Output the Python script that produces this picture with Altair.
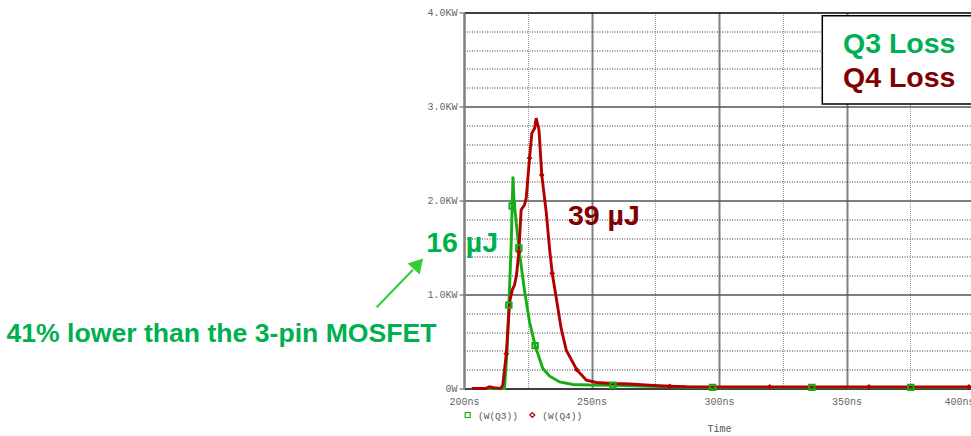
import altair as alt
import pandas as pd

# Q3 instantaneous loss, W(Q3): time in ns, power in W
q3_t = [202.9, 215.1, 215.9, 216.9, 217.6, 218.5, 218.9, 219.2, 219.6, 221.5, 223.7,
        225.7, 227.9, 230.9, 233.6, 237.5, 242.7, 249.3, 258.4, 272.8, 287.2, 297.5,
        336.4, 375.2, 400.0]
q3_p = [0, 0, 0, 408, 887, 1526, 1941, 2254, 2005, 1494, 1047,
        709, 456, 213, 131, 70, 43, 37, 35, 24, 14, 12,
        12, 12, 12]
q3_mark = [0, 0, 0, 0, 1, 0, 1, 0, 0, 1, 0,
           0, 1, 0, 0, 0, 0, 0, 1, 0, 0, 1,
           1, 1, 0]

# Q4 instantaneous loss, W(Q4)
q4_t = [203.2, 208.4, 210.0, 211.6, 214.3, 215.2, 216.6, 217.9, 218.9, 219.8, 220.6,
        221.5, 222.4, 223.7, 224.4, 225.7, 226.6, 227.7, 228.3, 229.4, 230.5, 232.3,
        233.6, 234.6, 236.2, 238.1, 240.1, 244.2, 248.0, 251.9, 258.4, 265.0, 272.8,
        280.7, 287.2, 319.9, 358.8, 398.0, 400.0]
q4_p = [0, 0, 19, 8, 0, 35, 371, 922, 1047, 1100, 1207,
        1452, 1899, 1952, 2024, 2450, 2716, 2769, 2876, 2751, 2272, 1864,
        1473, 1225, 959, 639, 408, 200, 88, 64, 53, 48, 35,
        24, 18, 17, 17, 17, 17]
q4_mark = [0, 0, 0, 0, 0, 0, 1, 0, 0, 0, 0,
           1, 0, 0, 0, 1, 0, 0, 0, 0, 1, 0,
           0, 1, 0, 0, 0, 1, 0, 0, 0, 0, 0,
           1, 0, 1, 1, 1, 0]

x_ticks = [200, 225, 250, 275, 300, 325, 350, 375, 400]
y_ticks = [0, 200, 400, 600, 800, 1000, 1200, 1400, 1600, 1800, 2000,
           2200, 2400, 2600, 2800, 3000, 3200, 3400, 3600, 3800, 4000]

GREEN_LINE = "#14ad14"
RED_LINE = "#b20000"
GREEN_TEXT = "#00b050"
RED_TEXT = "#800000"
MONO = "Liberation Mono"
SANS = "Liberation Sans"

q3 = pd.DataFrame({"t": q3_t, "p": q3_p, "mark": q3_mark, "s": "Q3"})
q4 = pd.DataFrame({"t": q4_t, "p": q4_p, "mark": q4_mark, "s": "Q4"})

x_axis = alt.Axis(
    values=x_ticks,
    labelExpr="datum.value % 50 === 0 ? datum.value + 'ns' : ''",
    labelAlign={"condition": {"test": "datum.value === 400", "value": "right"}, "value": "center"},
    labelFont=MONO, labelFontSize=10, labelColor="#666666",
    labelFlush=False, labelOverlap=False, labelPadding=8,
    ticks=False,
    domainColor="#000000", domainWidth=1,
    grid=True,
    gridColor={"condition": {"test": "datum.value % 50 === 0", "value": "#808080"}, "value": "#9a9a9a"},
    gridDash={"condition": {"test": "datum.value % 50 === 0", "value": []}, "value": [1, 1]},
    gridWidth={"condition": {"test": "datum.value % 50 === 0", "value": 2}, "value": 1},
    title="Time", titleFont=MONO, titleFontSize=10, titleFontWeight="normal",
    titleColor="#555555", titleX=255, titleY=40, titleAlign="center", titleBaseline="middle",
)

y_axis = alt.Axis(
    values=y_ticks,
    labelExpr="datum.value === 0 ? '0W' : (datum.value % 1000 === 0 ? format(datum.value / 1000, '.1f') + 'KW' : '')",
    labelFont=MONO, labelFontSize=10, labelColor="#666666",
    labelOverlap=False, labelPadding=2,
    tickSize=5, tickColor="#555555",
    tickOpacity={"condition": {"test": "datum.value % 1000 === 0", "value": 1}, "value": 0},
    domainColor="#808080", domainWidth=2,
    grid=True,
    gridColor={"condition": [{"test": "datum.value === 4000", "value": "#000000"},
                             {"test": "datum.value % 1000 === 0", "value": "#555555"}],
               "value": "#333333"},
    gridDash={"condition": {"test": "datum.value % 1000 === 0", "value": []}, "value": [1, 1.5]},
    gridWidth={"condition": {"test": "datum.value % 1000 === 0", "value": 1.5}, "value": 1},
    title=None,
)

x_enc = alt.X("t:Q", scale=alt.Scale(domain=[200, 400], range=[0, 510], nice=False), axis=x_axis)
y_enc = alt.Y("p:Q", scale=alt.Scale(domain=[0, 4000], nice=False), axis=y_axis)

q3_line = alt.Chart(q3).mark_line(color=GREEN_LINE, strokeWidth=2.9, clip=False).encode(x=x_enc, y=y_enc)
q4_line = alt.Chart(q4).mark_line(color=RED_LINE, strokeWidth=2.9, clip=False).encode(x=x_enc, y=y_enc)

q3_pts = alt.Chart(q3).transform_filter("datum.mark == 1").mark_point(
    shape="square", size=30, filled=False, stroke=GREEN_LINE, strokeWidth=2, opacity=1, clip=False
).encode(x=x_enc, y=y_enc)
q4_pts = alt.Chart(q4).transform_filter("datum.mark == 1").mark_point(
    shape="diamond", size=22, filled=True, fill=RED_LINE, stroke=RED_LINE, strokeWidth=1, opacity=1, clip=False
).encode(x=x_enc, y=y_enc)

# Legend box with the series names
box = alt.Chart(q3).transform_filter("datum.t == 202.9").mark_rect(
    fill="white", stroke="black", strokeWidth=1.5
).encode(x=alt.value(358.3), x2=alt.value(540), y=alt.value(3.2), y2=alt.value(91.5))


def label(text, x, y, color, size, align="left", baseline="alphabetic", font=SANS, weight="bold"):
    return alt.Chart(q3).transform_filter("datum.t == 202.9").mark_text(
        text=text, align=align, baseline=baseline, font=font, fontSize=size,
        fontWeight=weight, color=color, clip=False
    ).encode(x=alt.value(x), y=alt.value(y))


q3_name = label("Q3 Loss", 379, 40, GREEN_TEXT, 28.5)
q4_name = label("Q4 Loss", 379, 74.5, RED_TEXT, 28.5)
e_q4 = label("39 µJ", 104, 212.5, RED_TEXT, 28.5)
e_q3 = label("16 µJ", -37.8, 239.5, GREEN_TEXT, 28.5)
note = label("41% lower than the 3-pin MOSFET", -457.5, 329.2, GREEN_TEXT, 26.6)

# Arrow pointing from the note to the Q3 energy label
arrow_shaft = alt.Chart(q3).transform_filter("datum.t == 202.9").mark_rule(
    color="#33cc33", strokeWidth=2, clip=False
).encode(x=alt.value(-87.3), y=alt.value(294.8), x2=alt.value(-51), y2=alt.value(257.2))
arrow_head = alt.Chart(q3).transform_filter("datum.t == 202.9").mark_point(
    shape="triangle-up", size=210, filled=True, fill="#33cc33", stroke="#33cc33",
    strokeWidth=1, opacity=1, angle=42, clip=False
).encode(x=alt.value(-45.8), y=alt.value(251.5))

# Trace legend under the axis
leg_sq = alt.Chart(q3).transform_filter("datum.t == 202.9").mark_point(
    shape="square", size=25, filled=False, stroke=GREEN_LINE, strokeWidth=1.2, opacity=1, clip=False
).encode(x=alt.value(3.7), y=alt.value(402.5))
leg_q3 = label("(W(Q3))", 14, 403, "#555555", 9.5, baseline="middle", font=MONO, weight="normal")
leg_dm = alt.Chart(q3).transform_filter("datum.t == 202.9").mark_point(
    shape="diamond", size=25, filled=False, stroke=RED_LINE, strokeWidth=1.2, opacity=1, clip=False
).encode(x=alt.value(68.3), y=alt.value(402.5))
leg_q4 = label("(W(Q4))", 78.3, 403, "#555555", 9.5, baseline="middle", font=MONO, weight="normal")

chart = alt.layer(
    q3_line, q4_line, q3_pts, q4_pts, box, q3_name, q4_name, e_q4, e_q3, note,
    arrow_shaft, arrow_head, leg_sq, leg_q3, leg_dm, leg_q4
).properties(
    width=507, height=376,
    autosize=alt.AutoSizeParams(type="none"),
    padding={"left": 464, "top": 12.5, "right": 0, "bottom": 47.5},
    background="white",
).configure_view(strokeWidth=0)

chart.save("out.html", embed_options={"renderer": "svg", "actions": False})
